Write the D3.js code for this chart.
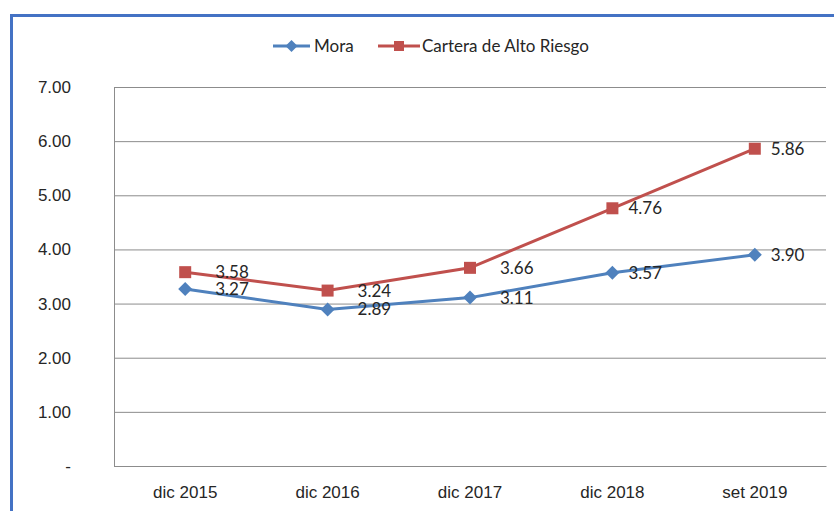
<!DOCTYPE html>
<html>
<head>
<meta charset="utf-8">
<script src="https://cdn.jsdelivr.net/npm/d3@7"></script>
<style>
  html, body { margin: 0; padding: 0; background: #fff; }
  svg { display: block; font-family: Lato, "Open Sans", sans-serif; }
</style>
</head>
<body>
<script>
// datos del gráfico
let periodos = ["dic 2015", "dic 2016", "dic 2017", "dic 2018", "set 2019"];
let mora = [3.27, 2.89, 3.11, 3.57, 3.90];
let carteraAltoRiesgo = [3.58, 3.24, 3.66, 4.76, 5.86];
let yTicks = [0, 1, 2, 3, 4, 5, 6, 7];

let series = [
    {name: "Mora", values: mora, color: "#4F81BD", symbol: "diamond"},
    {name: "Cartera de Alto Riesgo", values: carteraAltoRiesgo, color: "#C0504D", symbol: "square"}
];

let W = 834, H = 511;
let margin = {top: 87, right: 8, bottom: 45, left: 114};
let width = W - margin.left - margin.right,
    height = H - margin.top - margin.bottom;

let svg = d3.select("body").append("svg")
    .attr("width", W)
    .attr("height", H);

// marco azul
svg.append("rect")
    .attr("x", 11.5).attr("y", 15.5)
    .attr("width", 900).attr("height", 600)
    .attr("fill", "none")
    .attr("stroke", "#4472C4")
    .attr("stroke-width", 3);

let g = svg.append("g")
    .attr("transform", "translate(" + margin.left + "," + margin.top + ")");

// Escala X
let x = d3.scaleBand()
    .domain(periodos)
    .range([0, width]);

// Escala Y
let y = d3.scaleLinear()
    .domain([0, 7])
    .range([height, 0]);

// líneas de cuadrícula + eje izquierdo
let yAxis = g.append("g")
    .call(d3.axisLeft(y)
        .tickValues(yTicks)
        .tickSize(-width)
        .tickPadding(43)
        .tickFormat(d => d === 0 ? "-" : d3.format(".2f")(d)));
yAxis.select(".domain").remove();
yAxis.selectAll("line").attr("stroke", "#8c8c8c").attr("stroke-width", 1);
yAxis.selectAll("text")
    .attr("fill", "#262626")
    .style("font-size", "17px");

// línea vertical izquierda
g.append("line")
    .attr("x1", 0.5).attr("x2", 0.5)
    .attr("y1", 0).attr("y2", height)
    .attr("stroke", "#8c8c8c");

// eje inferior
let xAxis = g.append("g")
    .attr("transform", "translate(0," + height + ")")
    .call(d3.axisBottom(x).tickSize(0).tickPadding(20));
xAxis.select(".domain").attr("stroke", "#8c8c8c");
xAxis.selectAll("text")
    .attr("fill", "#262626")
    .style("font-size", "17px");

let line = d3.line()
    .x((d, i) => x(periodos[i]) + x.bandwidth() / 2)
    .y(d => y(d));

function marker(sel, type, s) {
    if (type === "square") {
        sel.append("rect")
            .attr("x", -s / 2).attr("y", -s / 2)
            .attr("width", s).attr("height", s);
    } else {
        let r = s / 2 + 1;
        sel.append("path")
            .attr("d", "M0," + (-r) + "L" + r + ",0L0," + r + "L" + (-r) + ",0Z");
    }
}

for (let s of series) {
    g.append("path")
        .datum(s.values)
        .attr("fill", "none")
        .attr("stroke", s.color)
        .attr("stroke-width", 3)
        .attr("d", line);

    let pts = g.append("g")
        .selectAll("g")
        .data(s.values)
        .join("g")
        .attr("transform", (d, i) => "translate(" + (x(periodos[i]) + x.bandwidth() / 2) + "," + y(d) + ")")
        .attr("fill", s.color);
    marker(pts, s.symbol, 12);

    // etiquetas de datos
    pts.append("text")
        .attr("x", (d, i) => i < 3 ? 30 : 16)
        .attr("dy", "0.35em")
        .attr("fill", "#262626")
        .style("font-size", "17px")
        .text(d => d3.format(".2f")(d));
}

// leyenda
let legendPos = [273, 378];
let legend = svg.append("g")
    .selectAll("g")
    .data(series)
    .join("g")
    .attr("transform", (d, i) => "translate(" + legendPos[i] + ",46)");
legend.append("line")
    .attr("x1", 0).attr("x2", (d, i) => i === 0 ? 37 : 42)
    .attr("stroke", d => d.color)
    .attr("stroke-width", 3);
legend.each(function (d, i) {
    let m = d3.select(this).append("g")
        .attr("transform", "translate(" + (i === 0 ? 18.5 : 21) + ",0)")
        .attr("fill", d.color);
    marker(m, d.symbol, 10);
});
legend.append("text")
    .attr("x", (d, i) => i === 0 ? 41 : 44)
    .attr("dy", "0.35em")
    .attr("fill", "#262626")
    .style("font-size", "17px")
    .text(d => d.name);
</script>
</body>
</html>
